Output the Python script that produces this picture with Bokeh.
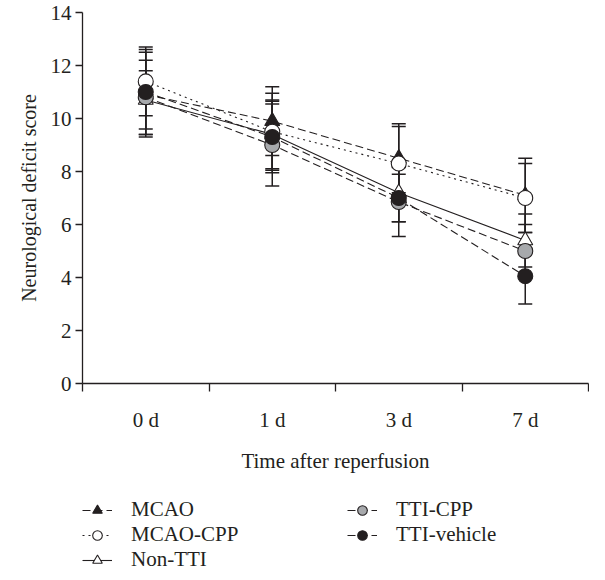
from bokeh.plotting import figure
from bokeh.layouts import column
from bokeh.models import (Range1d, FixedTicker, Whisker, TeeHead, ColumnDataSource,
                          Legend, LegendItem)
from bokeh.embed import file_html
from bokeh.resources import INLINE

# ---- data ----
categories = ["0 d", "1 d", "3 d", "7 d"]

mcao = [10.9, 9.9, 8.5, 7.1]
mcao_sd = [1.6, 1.3, 1.3, 1.4]

mcao_cpp = [11.4, 9.5, 8.3, 7.0]
mcao_cpp_sd = [1.3, 1.45, 1.4, 1.3]

non_tti = [10.7, 9.4, 7.2, 5.4]
non_tti_sd = [1.1, 1.3, 1.1, 1.0]

tti_cpp = [10.8, 9.0, 6.85, 5.0]
tti_cpp_sd = [1.4, 1.55, 1.3, 1.0]

tti_vehicle = [11.0, 9.3, 7.0, 4.05]
tti_vehicle_sd = [1.6, 1.35, 0.9, 1.05]

y_ticks = [0, 2, 4, 6, 8, 10, 12, 14]

INK = "#231f20"
FONT = "Liberation Serif"
FS = "21px"

x_pos = [i + 0.5 for i in range(len(categories))]
boundaries = [i for i in range(len(categories) + 1)]

p = figure(width=589, height=480, output_backend="svg", toolbar_location=None,
           x_range=Range1d(0, len(categories)), y_range=Range1d(0, 14),
           min_border_left=82, min_border_top=12, min_border_right=1,
           min_border_bottom=97)
p.grid.visible = False
p.outline_line_color = None
p.background_fill_color = "white"
p.border_fill_color = "white"

# axes
for ax in (p.xaxis[0], p.yaxis[0]):
    ax.axis_line_color = INK
    ax.axis_line_width = 1.3
    ax.major_tick_line_color = INK
    ax.major_tick_line_width = 1.3
    ax.minor_tick_line_color = INK
    ax.minor_tick_line_width = 1.3
    ax.major_label_text_font = FONT
    ax.major_label_text_font_size = FS
    ax.major_label_text_color = INK
    ax.axis_label_text_font = FONT
    ax.axis_label_text_font_size = FS
    ax.axis_label_text_font_style = "normal"
    ax.axis_label_text_color = INK

xa = p.xaxis[0]
xa.ticker = FixedTicker(ticks=x_pos, minor_ticks=boundaries)
xa.major_label_overrides = {x: c for x, c in zip(x_pos, categories)}
xa.major_tick_in = 0
xa.major_tick_out = 0
xa.minor_tick_in = 0
xa.minor_tick_out = 8
xa.major_label_standoff = 16
xa.axis_label = "Time after reperfusion"
xa.axis_label_standoff = 14

ya = p.yaxis[0]
ya.ticker = FixedTicker(ticks=y_ticks)
ya.major_tick_in = 0
ya.major_tick_out = 7
ya.minor_tick_out = 0
ya.minor_tick_in = 0
ya.major_label_standoff = 4
ya.axis_label = "Neurological deficit score"
ya.axis_label_text_font_size = "20px"
ya.axis_label_standoff = 8

series = [
    ("Non-TTI", non_tti, non_tti_sd, "triangle", "white", "solid"),
    ("MCAO", mcao, mcao_sd, "triangle", INK, "8 4"),
    ("MCAO-CPP", mcao_cpp, mcao_cpp_sd, "circle", "white", "2 4"),
    ("TTI-CPP", tti_cpp, tti_cpp_sd, "circle", "#a7a9ac", "8 4"),
    ("TTI-vehicle", tti_vehicle, tti_vehicle_sd, "circle", INK, "8 4"),
]

# legend-only figure placed under the chart
lf = figure(width=589, height=88, output_backend="svg", toolbar_location=None,
            x_range=Range1d(0, 1), y_range=Range1d(0, 1),
            x_axis_type=None, y_axis_type=None,
            min_border_left=78, min_border_top=17, min_border_right=0,
            min_border_bottom=0)
lf.grid.visible = False
lf.outline_line_color = None
lf.background_fill_color = "white"
lf.border_fill_color = "white"

items = {}
for name, vals, sd, marker, fill, dash in series:
    src = ColumnDataSource(dict(
        x=x_pos, y=vals,
        upper=[v + s for v, s in zip(vals, sd)],
        lower=[v - s for v, s in zip(vals, sd)]))
    w = Whisker(source=src, base="x", upper="upper", lower="lower",
                line_color=INK, line_width=1.5, level="underlay",
                upper_head=TeeHead(size=14, line_color=INK, line_width=1.5),
                lower_head=TeeHead(size=14, line_color=INK, line_width=1.5))
    p.add_layout(w)
    p.line("x", "y", source=src, line_color=INK, line_width=1.1, line_dash=dash)
    p.scatter("x", "y", source=src, marker=marker, size=15,
              fill_color=fill, line_color=INK, line_width=1.1)
    # same styles, used only as legend keys
    lr = lf.line("x", "y", source=src, line_color=INK, line_width=1.1,
                 line_dash=dash, visible=False)
    sr = lf.scatter("x", "y", source=src, marker=marker, size=15,
                    fill_color=fill, line_color=INK, line_width=1.1, visible=False)
    items[name] = LegendItem(label=name, renderers=[lr, sr])

# row-major order for a 2-column legend
legend_order = ["MCAO", "TTI-CPP", "MCAO-CPP", "TTI-vehicle", "Non-TTI"]
legend = Legend(items=[items[n] for n in legend_order], orientation="horizontal",
                ncols=2, location="top_left",
                label_text_font=FONT, label_text_font_size=FS, label_text_color=INK,
                glyph_width=30, glyph_height=24, label_height=20, label_width=216,
                label_standoff=19, spacing=0, padding=10, margin=0,
                inactive_fill_alpha=0,
                border_line_color=None, background_fill_alpha=0)
lf.add_layout(legend, "center")

layout = column(p, lf, spacing=0)
open("out.html", "w").write(file_html(layout, INLINE))
